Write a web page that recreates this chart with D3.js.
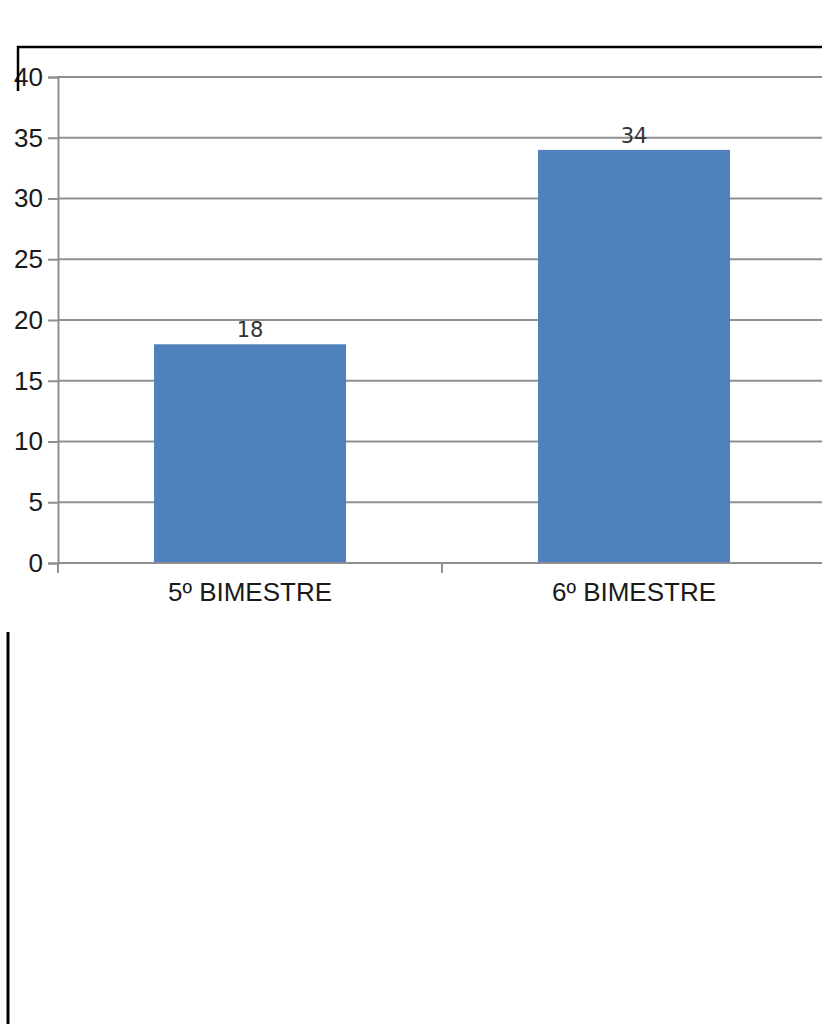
<!DOCTYPE html>
<html>
<head>
<meta charset="utf-8">
<script src="https://cdn.jsdelivr.net/npm/d3@7"></script>
<style>
  html, body { margin: 0; padding: 0; background: #fff; }
  svg { display: block; }
</style>
</head>
<body>
<svg id="chart" width="822" height="1024"></svg>
<script>
// Chart data
const categories = ["5º BIMESTRE", "6º BIMESTRE"];
const values = [18, 34];
const yTicks = [0, 5, 10, 15, 20, 25, 30, 35, 40];

const svg = d3.select("#chart");

const x = d3.scaleBand()
  .domain(categories)
  .range([58, 826])
  .paddingInner(0.5)
  .paddingOuter(0.25);

const y = d3.scaleLinear()
  .domain([0, 40])
  .range([563, 77]);

const gridColor = "#8f8f8f";

// Horizontal gridlines
svg.append("g")
  .selectAll("line")
  .data(yTicks.filter(d => d > 0))
  .join("line")
  .attr("x1", 58).attr("x2", 822)
  .attr("y1", d => y(d)).attr("y2", d => y(d))
  .attr("stroke", gridColor)
  .attr("stroke-width", 2);

// Bars
svg.append("g")
  .selectAll("rect")
  .data(categories)
  .join("rect")
  .attr("x", d => x(d))
  .attr("y", (d, i) => y(values[i]))
  .attr("width", x.bandwidth())
  .attr("height", (d, i) => y(0) - y(values[i]))
  .attr("fill", "#4f81bd");

// Value labels
svg.append("g")
  .selectAll("text")
  .data(categories)
  .join("text")
  .attr("x", d => x(d) + x.bandwidth() / 2)
  .attr("y", (d, i) => y(values[i]) - 7)
  .attr("text-anchor", "middle")
  .attr("font-family", "DejaVu Sans, sans-serif")
  .attr("font-size", 21)
  .attr("fill", "#333")
  .text((d, i) => values[i]);

// Y axis
const yAxis = d3.axisLeft(y)
  .tickValues(yTicks)
  .tickSize(10)
  .tickPadding(5)
  .tickFormat(d3.format("d"));

const gy = svg.append("g")
  .attr("transform", "translate(58,0)")
  .call(yAxis);
gy.select(".domain").attr("stroke", gridColor).attr("stroke-width", 2);
gy.selectAll(".tick line").attr("stroke", gridColor).attr("stroke-width", 2);
gy.selectAll(".tick text")
  .attr("font-family", "Liberation Sans, Arial, sans-serif")
  .attr("font-size", 26)
  .attr("fill", "#1a1a1a");

// X axis baseline and category boundary ticks
const step = x.step();
const bounds = [0, 1, 2].map(i => x.range()[0] + i * step);
svg.append("line")
  .attr("x1", 58).attr("x2", 822)
  .attr("y1", y(0)).attr("y2", y(0))
  .attr("stroke", gridColor).attr("stroke-width", 2);
svg.append("g")
  .selectAll("line")
  .data(bounds)
  .join("line")
  .attr("x1", d => d).attr("x2", d => d)
  .attr("y1", y(0)).attr("y2", y(0) + 10)
  .attr("stroke", gridColor).attr("stroke-width", 2);

// Category labels
svg.append("g")
  .selectAll("text")
  .data(categories)
  .join("text")
  .attr("x", d => x(d) + x.bandwidth() / 2)
  .attr("y", 601)
  .attr("text-anchor", "middle")
  .attr("font-family", "Liberation Sans, Arial, sans-serif")
  .attr("font-size", 26)
  .attr("fill", "#1a1a1a")
  .text(d => d);

// Frame lines
svg.append("path")
  .attr("d", "M18,91 V47 H822")
  .attr("fill", "none")
  .attr("stroke", "#000")
  .attr("stroke-width", 2.5);
svg.append("line")
  .attr("x1", 8).attr("x2", 8)
  .attr("y1", 632).attr("y2", 1024)
  .attr("stroke", "#000")
  .attr("stroke-width", 3);
</script>
</body>
</html>
